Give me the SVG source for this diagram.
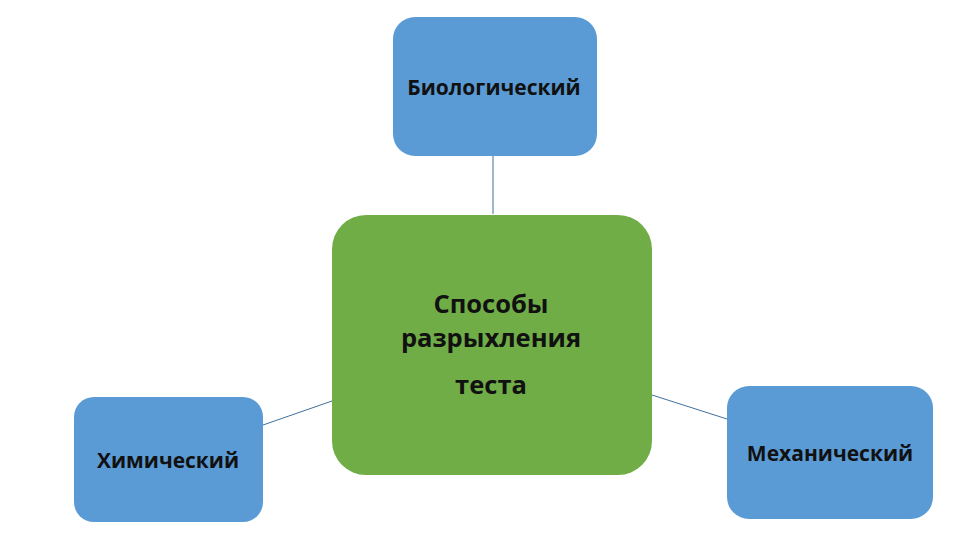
<svg xmlns="http://www.w3.org/2000/svg" width="960" height="540" viewBox="0 0 960 540">
<style>
.blue{fill:#5B9BD5}
.green{fill:#70AD47}
.t{font-family:"Open Sans","Noto Sans","DejaVu Sans",sans-serif;font-weight:700;fill:#111;text-anchor:middle}
.s{font-size:21px}
.c{font-size:25.5px}
.conn line{stroke:#41719C;stroke-width:1}
</style>
<rect width="960" height="540" fill="#fff"/>
<g id="connectors" class="conn">
<line x1="493" y1="156" x2="493" y2="214"/>
<line x1="263" y1="425" x2="332" y2="401"/>
<line x1="652" y1="395" x2="727" y2="419"/>
</g>
<g id="node-bio">
<rect class="blue" x="393" y="17" width="204" height="139" rx="22"/>
<text class="t s" x="494" y="95">Биологический</text>
</g>
<g id="node-center">
<rect class="green" x="332" y="215" width="320" height="260" rx="34"/>
<text class="t c" x="491" y="313">Способы</text>
<text class="t c" x="491" y="347">разрыхления</text>
<text class="t c" x="491" y="394">теста</text>
</g>
<g id="node-chem">
<rect class="blue" x="74" y="397" width="189" height="125" rx="20"/>
<text class="t s" x="168" y="468">Химический</text>
</g>
<g id="node-mech">
<rect class="blue" x="727" y="386" width="206" height="133" rx="22"/>
<text class="t s" x="830" y="461">Механический</text>
</g>
</svg>
